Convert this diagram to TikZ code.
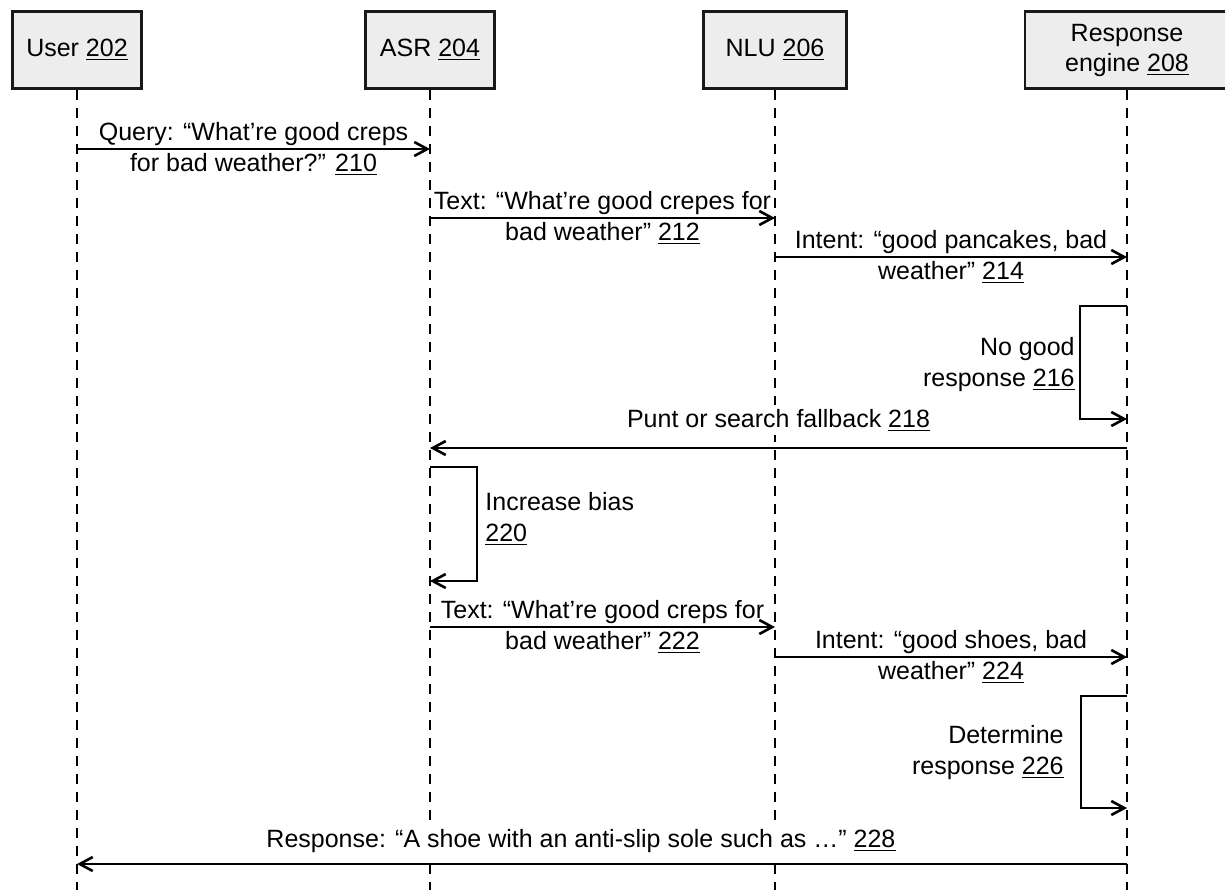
\documentclass[tikz,border=0pt]{standalone}
\usepackage{fontspec}
\setmainfont{Liberation Sans}
\usetikzlibrary{arrows.meta}

\begin{document}
\begin{tikzpicture}[x=0.5pt,y=-0.5pt]
    \tikzstyle{actor} = [draw=black!90,line width=1.3pt,fill=black!7,minimum height=38.5pt,inner sep=0pt,align=center,font=\fontsize{12.5}{15}\selectfont]
    \tikzstyle{lifeline} = [draw=black,line width=1.4pt,dash pattern=on 5pt off 4pt]
    \tikzstyle{msg} = [draw=black,line width=1.3pt,-{Straight Barb[length=6.5pt,width=7pt,line width=1.3pt]}]
    \tikzstyle{lbl} = [inner sep=0pt,align=center,font=\fontsize{12.5}{15.5}\selectfont]

    \clip (0,0) rectangle (1225,890);

    \node[actor,minimum width=64.5pt] (user) at (77,50) {User \underline{202}};
    \node[actor,minimum width=64.5pt] (asr) at (430,50) {ASR \underline{204}};
    \node[actor,minimum width=71.5pt] (nlu) at (775,50) {NLU \underline{206}};
    \node[actor,minimum width=102pt] (engine) at (1127,50) {Response\\engine \underline{208}};

    \coordinate (bottom) at (0,890);
    \draw[lifeline] (user.south) -- (user |- bottom);
    \draw[lifeline] (asr.south) -- (asr |- bottom);
    \draw[lifeline] (nlu.south) -- (nlu |- bottom);
    \draw[lifeline] (engine.south) -- (engine |- bottom);

    % heights of the messages
    \coordinate (y210) at (0,149);
    \coordinate (y212) at (0,218);
    \coordinate (y214) at (0,257);
    \coordinate (y216a) at (0,306);
    \coordinate (y216b) at (0,419);
    \coordinate (y218) at (0,448);
    \coordinate (y220a) at (0,467);
    \coordinate (y220b) at (0,581);
    \coordinate (y222) at (0,627);
    \coordinate (y224) at (0,657);
    \coordinate (y226a) at (0,696);
    \coordinate (y226b) at (0,808);
    \coordinate (y228) at (0,864);

    \draw[msg] (user |- y210) -- node[lbl] (l210) {Query: “What’re good creps\\for bad weather?” \underline{210}} (asr |- y210);
    \draw[msg] (asr |- y212) -- node[lbl] (l212) {Text: “What’re good crepes for\\bad weather” \underline{212}} (nlu |- y212);
    \draw[msg] (nlu |- y214) -- node[lbl] (l214) {Intent: “good pancakes, bad\\weather” \underline{214}} (engine |- y214);

    \draw[msg] (engine |- y216a) -- ++(-47,0) |- (engine |- y216b);
    \node[lbl,align=right,anchor=base east] (l216) at (1075,386) {No good\\response \underline{216}};

    \draw[msg] (engine |- y218) -- (asr |- y218);
    \node[lbl,fill=white,inner sep=2pt,anchor=base] (l218) at (778.5,427) {Punt or search fallback \underline{218}};

    \draw[msg] (asr |- y220a) -- ++(47,0) |- (asr |- y220b);
    \node[lbl,align=left,anchor=base west] (l220) at (485,541) {Increase bias\\\underline{220}};

    \draw[msg] (asr |- y222) -- node[lbl] (l222) {Text: “What’re good creps for\\bad weather” \underline{222}} (nlu |- y222);
    \draw[msg] (nlu |- y224) -- node[lbl] (l224) {Intent: “good shoes, bad\\weather” \underline{224}} (engine |- y224);

    \draw[msg] (engine |- y226a) -- ++(-46,0) |- (engine |- y226b);
    \node[lbl,align=right,anchor=base east] (l226) at (1064,774) {Determine\\response \underline{226}};

    \draw[msg] (engine |- y228) -- (user |- y228);
    \node[lbl,fill=white,inner sep=2pt,anchor=base] (l228) at (581,847) {Response: “A shoe with an anti-slip sole such as …” \underline{228}};
\end{tikzpicture}
\end{document}
